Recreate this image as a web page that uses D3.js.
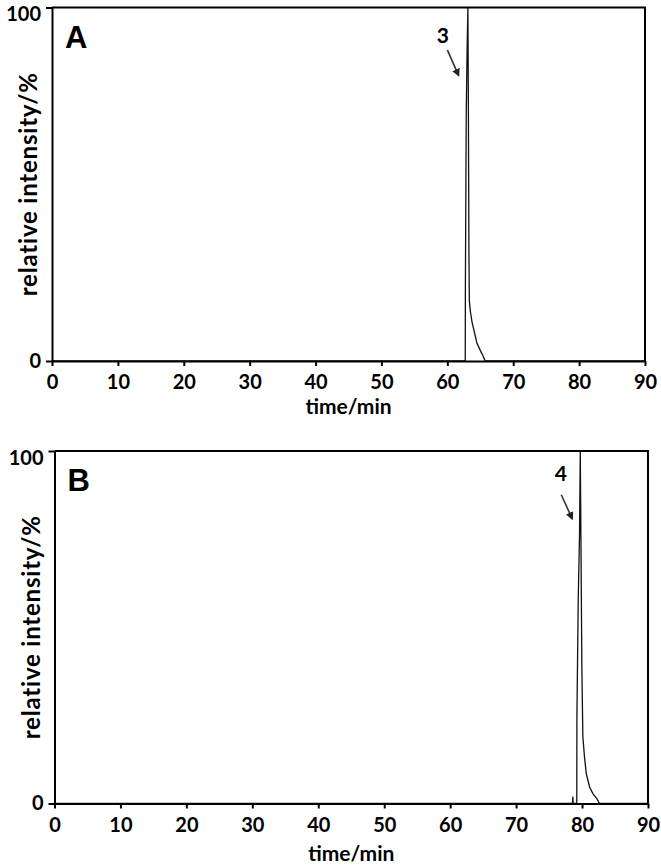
<!DOCTYPE html>
<html>
<head>
<meta charset="utf-8">
<script src="https://cdn.jsdelivr.net/npm/d3@7"></script>
<style>
  body { margin: 0; background: #fff; }
  svg { display: block; }
</style>
</head>
<body>
<svg id="chart" width="661" height="866"></svg>
<script>
// ---------------------------------------------------------------------------
// Data
// ---------------------------------------------------------------------------
const xTicks = [0, 10, 20, 30, 40, 50, 60, 70, 80, 90];
const yTicks = [0, 100];
const xLabel = 'time/min';
const yLabel = 'relative intensity/%';

// panel A – compound 3
const timeA      = [0, 62.72, 62.74, 62.87, 63.0, 63.12, 63.2, 63.28, 63.34, 63.5, 63.75, 64.0, 64.25, 64.5, 65.0, 65.4, 65.75, 90];
const intensityA = [0, 0,     21,    70,    88,   100,   70,   30,    17,    14,   11,    9,    7,     5,    3,    1.5,  0,     0];

// panel B – compound 4
const timeB      = [0, 78.55, 78.6, 78.65, 79.2, 79.22, 79.42, 79.62, 79.73, 79.82, 79.97, 80.12, 80.38, 80.64, 81.14, 81.64, 82.24, 82.65, 90];
const intensityB = [0, 0,     2,    0,     0,    24.5,  57.7,  76.6,  100,   77.5,  38.7,  19,    13,    8.5,   4.7,   2.8,   1.4,   0,     0];

// peak annotations: label position and arrow (time, intensity)
const peakLabels = ['3', '4'];
const labelPosT  = [59.3, 76.8];
const labelPosI  = [92, 93.6];
const arrowFromT = [60.0, 76.85];
const arrowFromI = [88, 87.6];
const arrowToT   = [61.7, 78.5];
const arrowToI   = [80.8, 80.8];

const panelNames = ['A', 'B'];

// ---------------------------------------------------------------------------
// Layout
// ---------------------------------------------------------------------------
const frames = [
  { left: 52, right: 645, top: 7.5, bottom: 361, titleGap: 53 },
  { left: 54.5, right: 648, top: 451, bottom: 803.5, titleGap: 57 }
];
const series = [
  { t: timeA, v: intensityA },
  { t: timeB, v: intensityB }
];

const FONT = 'Lato, "Open Sans", sans-serif';
const svg = d3.select('#chart');

svg.append('defs').append('marker')
  .attr('id', 'arrowhead')
  .attr('viewBox', '0 0 10 10')
  .attr('refX', 8).attr('refY', 5)
  .attr('markerWidth', 5).attr('markerHeight', 5)
  .attr('orient', 'auto')
  .append('path')
  .attr('d', 'M0,0L10,5L0,10z')
  .attr('fill', '#222');

frames.forEach((f, i) => {
  const x = d3.scaleLinear().domain([0, 90]).range([f.left, f.right]);
  const y = d3.scaleLinear().domain([0, 100]).range([f.bottom, f.top]);
  const g = svg.append('g');

  // trace
  const pts = series[i].t.map((t, k) => [t, series[i].v[k]]);
  g.append('path')
    .datum(pts)
    .attr('fill', 'none')
    .attr('stroke', '#111')
    .attr('stroke-width', 1.3)
    .attr('d', d3.line().x(d => x(d[0])).y(d => y(d[1])));

  // frame (top and right edges)
  g.append('path')
    .attr('d', `M${f.left},${f.top}H${f.right}V${f.bottom}`)
    .attr('fill', 'none')
    .attr('stroke', '#000')
    .attr('stroke-width', 2);

  const xAx = g.append('g')
    .attr('transform', `translate(0,${f.bottom})`)
    .call(d3.axisBottom(x).tickValues(xTicks).tickSize(5).tickPadding(9).tickSizeOuter(0));
  const yAx = g.append('g')
    .attr('transform', `translate(${f.left},0)`)
    .call(d3.axisLeft(y).tickValues(yTicks).tickSize(6).tickPadding(5).tickSizeOuter(0));

  [xAx, yAx].forEach(sel => {
    sel.selectAll('.domain').attr('stroke', '#000').attr('stroke-width', 2);
    sel.selectAll('.tick line').attr('stroke', '#000').attr('stroke-width', 2);
    sel.selectAll('text')
      .attr('fill', '#000')
      .style('font-family', FONT)
      .style('font-weight', 700)
      .style('font-size', '20px');
  });
  // keep the top label inside the picture
  yAx.selectAll('.tick').filter(d => d === 100).select('text').attr('dy', '0.65em');

  // axis titles
  g.append('text')
    .attr('x', (f.left + f.right) / 2)
    .attr('y', f.bottom + f.titleGap)
    .attr('text-anchor', 'middle')
    .style('font-family', FONT).style('font-weight', 700).style('font-size', '21px')
    .text(xLabel);

  g.append('text')
    .attr('transform', `translate(${f.left - 15},${(f.top + f.bottom) / 2}) rotate(-90)`)
    .attr('text-anchor', 'middle')
    .style('font-family', FONT).style('font-weight', 700).style('font-size', '24px')
    .style('letter-spacing', '0.8px')
    .text(yLabel);

  // panel letter
  g.append('text')
    .attr('x', f.left + 13)
    .attr('y', f.top + 40)
    .style('font-family', '"Liberation Sans", Arial, sans-serif')
    .style('font-weight', 700).style('font-size', '31px')
    .text(panelNames[i]);

  // peak annotation
  g.append('text')
    .attr('x', x(labelPosT[i]))
    .attr('y', y(labelPosI[i]))
    .attr('dy', '0.35em')
    .attr('text-anchor', 'middle')
    .style('font-family', FONT).style('font-weight', 700).style('font-size', '21px')
    .text(peakLabels[i]);

  g.append('line')
    .attr('x1', x(arrowFromT[i])).attr('y1', y(arrowFromI[i]))
    .attr('x2', x(arrowToT[i])).attr('y2', y(arrowToI[i]))
    .attr('stroke', '#333')
    .attr('stroke-width', 1.6)
    .attr('marker-end', 'url(#arrowhead)');
});
</script>
</body>
</html>
